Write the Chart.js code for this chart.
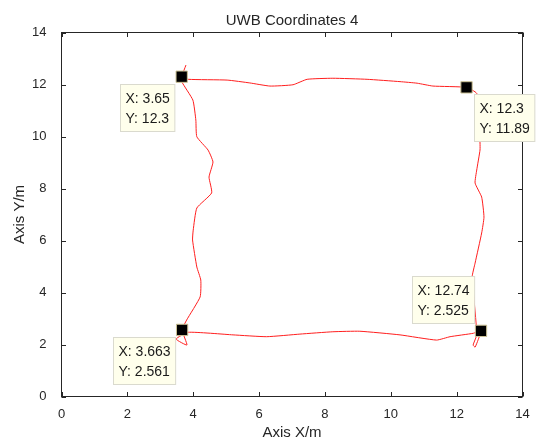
<!DOCTYPE html>
<html>
<head>
<meta charset="utf-8">
<script src="https://cdn.jsdelivr.net/npm/chart.js@4.4.1/dist/chart.umd.min.js"></script>
<style>
  html, body { margin: 0; padding: 0; background: #fff; }
  #wrap { width: 539px; height: 442px; }
</style>
</head>
<body>
<div id="wrap"><canvas id="uwbChart" width="539" height="442"></canvas></div>
<script>
// UWB track, metres
const pathX = [3.78, 3.65, 3.65, 3.99, 4.08, 4.11, 4.45, 4.60, 4.48, 4.56, 4.11, 4.00, 3.98, 4.11, 4.23, 4.21, 3.80, 3.663, 3.81, 3.48,
               3.85, 5.21, 6.23, 7.24, 8.24, 9.06, 10.28, 11.39, 11.80, 12.50, 12.74, 12.65, 12.56, 12.50, 12.61, 12.53, 12.47, 12.56, 12.76, 12.83,
               12.76, 12.56, 12.61, 12.71, 12.71, 12.65, 12.61, 12.30, 11.28, 10.80, 10.28, 9.28, 8.24, 7.46, 7.03, 6.33, 5.72, 5.03, 3.85, 3.65];
const pathY = [12.75, 12.30, 12.11, 11.40, 10.63, 9.99, 9.48, 9.02, 8.44, 7.83, 7.25, 6.40, 6.02, 4.98, 4.48, 3.83, 2.94, 2.561, 1.98, 2.21,
               2.47, 2.37, 2.30, 2.40, 2.49, 2.51, 2.37, 2.17, 2.30, 2.43, 2.525, 2.17, 1.90, 1.98, 2.37, 3.71, 4.60, 5.13, 6.29, 6.90,
               7.67, 8.21, 8.71, 9.48, 9.75, 11.02, 11.66, 11.89, 11.94, 12.05, 12.11, 12.20, 12.24, 12.20, 11.99, 11.94, 12.06, 12.17, 12.20, 12.30];

// data tips
const tipX = [3.65, 3.663, 12.74, 12.3];
const tipY = [12.3, 2.561, 2.525, 11.89];
const tipLabelX = ['3.65', '3.663', '12.74', '12.3'];
const tipLabelY = ['12.3', '2.561', '2.525', '11.89'];
const tipSide = ['leftBelow', 'leftBelow', 'leftAbove', 'rightBelow'];

const xTicks = [0, 2, 4, 6, 8, 10, 12, 14];
const yTicks = [0, 2, 4, 6, 8, 10, 12, 14];

const textColor = '#262626';
const fontFamily = '"Liberation Sans", Arial, Helvetica, sans-serif';

const boxFrame = {
  id: 'boxFrame',
  afterDatasetsDraw(chart) {
    const { ctx, chartArea: a, scales: { x, y } } = chart;
    const tick = 4.5;
    ctx.save();
    ctx.strokeStyle = textColor;
    ctx.lineWidth = 1;
    ctx.strokeRect(a.left, a.top, a.right - a.left, a.bottom - a.top);
    ctx.beginPath();
    xTicks.forEach(v => {
      const px = Math.round(x.getPixelForValue(v)) + 0.5;
      ctx.moveTo(px, a.bottom); ctx.lineTo(px, a.bottom - tick);
      ctx.moveTo(px, a.top); ctx.lineTo(px, a.top + tick);
    });
    yTicks.forEach(v => {
      const py = Math.round(y.getPixelForValue(v)) + 0.5;
      ctx.moveTo(a.left, py); ctx.lineTo(a.left + tick, py);
      ctx.moveTo(a.right, py); ctx.lineTo(a.right - tick, py);
    });
    ctx.stroke();

    // data tip boxes
    ctx.font = '14px ' + fontFamily;
    ctx.textBaseline = 'middle';
    tipX.forEach((v, i) => {
      const mx = x.getPixelForValue(v);
      const my = y.getPixelForValue(tipY[i]);
      const l1 = 'X: ' + tipLabelX[i];
      const l2 = 'Y: ' + tipLabelY[i];
      const w = Math.max(ctx.measureText(l1).width, ctx.measureText(l2).width) + 10;
      const h = 47;
      let bx, by;
      if (tipSide[i] === 'leftBelow') { bx = mx - 7 - w; by = my + 7; }
      else if (tipSide[i] === 'leftAbove') { bx = mx - 7 - w; by = my - 8 - h; }
      else { bx = mx + 7; by = my + 7; }
      bx = Math.round(bx) + 0.5; by = Math.round(by) + 0.5;
      ctx.fillStyle = 'rgb(255,255,236)';
      ctx.fillRect(bx, by, w, h);
      ctx.strokeStyle = 'rgb(218,218,206)';
      ctx.strokeRect(bx, by, w, h);
      ctx.fillStyle = '#1a1a1a';
      ctx.fillText(l1, bx + 5, by + 15);
      ctx.fillText(l2, bx + 5, by + 35);
    });
    ctx.restore();
  }
};

new Chart(document.getElementById('uwbChart'), {
  type: 'scatter',
  data: {
    datasets: [
      {
        label: 'track',
        data: pathX.map((v, i) => ({ x: v, y: pathY[i] })),
        showLine: true,
        borderColor: 'rgb(255,30,30)',
        borderWidth: 1,
        pointRadius: 0,
        tension: 0.15,
        order: 2
      },
      {
        label: 'tips',
        data: tipX.map((v, i) => ({ x: v, y: tipY[i] })),
        pointStyle: 'rect',
        pointRadius: 8,
        pointBackgroundColor: '#000',
        pointBorderColor: 'rgb(205,195,150)',
        pointBorderWidth: 1,
        order: 1
      }
    ]
  },
  options: {
    responsive: false,
    animation: false,
    devicePixelRatio: 1,
    layout: { padding: { left: 0, right: 16.5, top: 0, bottom: 0 } },
    plugins: {
      legend: { display: false },
      tooltip: { enabled: false },
      title: {
        display: true,
        text: 'UWB Coordinates 4',
        fullSize: false,
        color: textColor,
        font: { family: fontFamily, size: 15, weight: 'normal' },
        padding: { top: 12, bottom: 2.5 }
      }
    },
    scales: {
      x: {
        type: 'linear',
        min: 0,
        max: 14,
        grid: { display: false },
        border: { display: false },
        afterBuildTicks: s => { s.ticks = xTicks.map(v => ({ value: v })); },
        afterFit: s => { s.height = 45.5; },
        ticks: { color: textColor, font: { family: fontFamily, size: 13 }, padding: 2, maxRotation: 0 },
        title: {
          display: true,
          text: 'Axis X/m',
          color: textColor,
          font: { family: fontFamily, size: 15 },
          padding: { top: 0, bottom: 0 }
        }
      },
      y: {
        type: 'linear',
        min: 0,
        max: 14,
        grid: { display: false },
        border: { display: false },
        afterBuildTicks: s => { s.ticks = yTicks.map(v => ({ value: v })); },
        afterFit: s => { s.width = 61.5; },
        ticks: { color: textColor, font: { family: fontFamily, size: 13 }, padding: 7 },
        title: {
          display: true,
          text: 'Axis Y/m',
          color: textColor,
          font: { family: fontFamily, size: 15 },
          padding: { top: 11, bottom: 0 }
        }
      }
    }
  },
  plugins: [boxFrame]
});
</script>
</body>
</html>
